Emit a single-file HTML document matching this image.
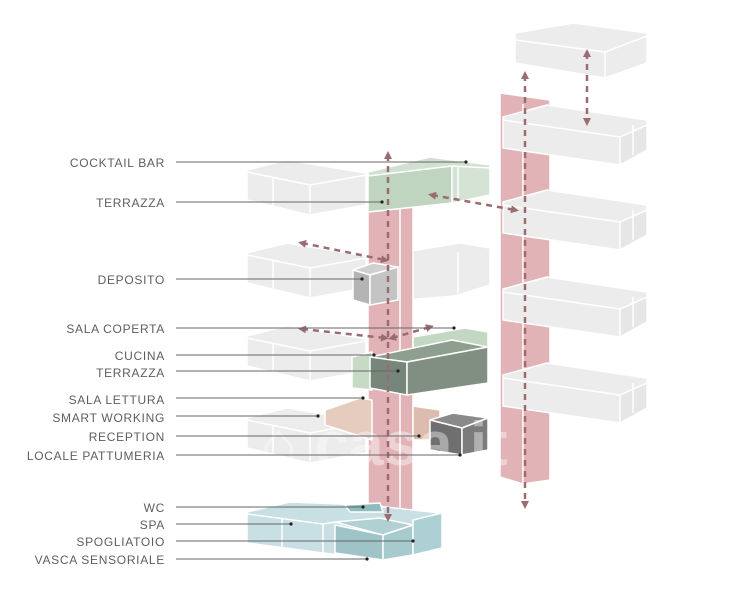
<!DOCTYPE html>
<html><head><meta charset="utf-8"><style>
html,body{margin:0;padding:0;background:#fff;}
svg{display:block;}
text{font-family:"Liberation Sans",sans-serif;font-size:12px;fill:#5e5e5e;letter-spacing:0.7px;}
</style></head><body>
<svg width="738" height="600" viewBox="0 0 738 600" xmlns="http://www.w3.org/2000/svg">
<defs>
<marker id="ah" viewBox="0 0 10 10" refX="5" refY="5" markerWidth="3.2" markerHeight="3.2" orient="auto-start-reverse"><path d="M0,0 L10,5 L0,10 z" fill="#9a6b70"/></marker>
</defs>
<g stroke="#fff" stroke-width="1.5" stroke-linejoin="round">
<polygon points="500,93 550,100 550,480 523,484 500,477" fill="#e2b3b6"/>
<line x1="523" y1="104" x2="523" y2="484"/>
<g fill="#ececec">
<polygon points="515,33 573,23 647,33 647,63 605,78 515,63"/>
<polyline points="515,40 605,52 647,36" fill="none"/><line x1="605" y1="52" x2="605" y2="78"/>
</g>
<g id="rf" fill="#ececec">
<polygon points="503,117 547,105 647,120 647,150 620,165 503,148"/>
<polygon points="620,137 647,125 647,150 620,165" fill="#e6e6e6"/>
<polyline points="503,120 620,137" fill="none"/>
<polyline points="633,125 633,155" fill="none"/>
</g>
<use href="#rf" transform="translate(0,85)"/>
<use href="#rf" transform="translate(0,172)"/>
<use href="#rf" transform="translate(0,258)"/>
<g id="gb" fill="#ececec">
<polygon points="247,170 287,160 366,173 366,205 310,215 247,200"/>
<polyline points="247,172 310,185 366,175" fill="none"/>
<line x1="310" y1="185" x2="310" y2="215"/>
<line x1="273" y1="177" x2="273" y2="207"/>
</g>
<use href="#gb" transform="translate(0,83)"/>
<g fill="#ececec">
<polygon points="405,252 460,243 490,248 490,285 455,296 405,300"/>
<line x1="458" y1="252" x2="458" y2="293"/>
</g>
<use href="#gb" transform="translate(0,166)"/>
<use href="#gb" transform="translate(0,248)"/>
<polygon points="368,205 413,205 413,520 368,520" fill="#e2b3b6"/>
<line x1="400" y1="208" x2="400" y2="520"/>
<polygon points="368,172 430,157 490,165 490,195 452,203 368,212" fill="#d1e1d1"/>
<polygon points="368,176 452,166 452,203 368,212" fill="#bfd5bf"/>
<polygon points="452,166 490,168 490,195 452,203" fill="#d4e3d4"/>
<line x1="458" y1="167" x2="458" y2="201"/>
<polygon points="353,270 373,263 398,267 370,275" fill="#d0d0d0"/>
<polygon points="353,270 370,275 370,305 353,300" fill="#b4b4b4"/>
<polygon points="370,275 398,267 398,300 370,305" fill="#c4c4c4"/>
<polygon points="413,337 465,328 488,332 488,347 413,352" fill="#c3d8c3"/>
<polygon points="352,357 372,352 372,390 352,388" fill="#c6dac6"/>
<polygon points="370,357 452,340 488,347 407,362" fill="#8e9e8f"/>
<polygon points="370,357 407,362 407,395 370,388" fill="#76867a"/>
<polygon points="407,362 488,347 488,383 407,395" fill="#818f82"/>
<polygon points="325,410 360,398 372,400 372,440 325,425" fill="#e6cbbf"/>
<polygon points="413,406 440,410 440,440 413,440" fill="#dcbcaf"/>
<polygon points="430,420 453,413 488,418 462,428" fill="#8a8a8a"/>
<polygon points="430,420 462,428 462,455 430,450" fill="#6f6f6f"/>
<polygon points="462,428 488,418 488,450 462,455" fill="#7b7b7b"/>
<polygon points="247,512 290,502 367,505 440,513 442,550 383,560 323,553 247,543" fill="#c8dfe4"/>
<polyline points="247,514 323,524 335,522" fill="none"/>
<line x1="282" y1="518" x2="282" y2="548"/>
<line x1="323" y1="524" x2="323" y2="553"/>
<polygon points="335,522 380,518 413,525 383,535" fill="#b1d0d3"/>
<polygon points="335,525 383,535 383,560 335,553" fill="#9fc4c7"/>
<polygon points="383,535 413,525 413,555 383,560" fill="#a7cacd"/>
<polygon points="413,520 442,513 442,548 413,555" fill="#acd0d3"/>
<polygon points="345,505 380,503 383,512 350,512" fill="#8fbcbf"/>
</g>
<text x="260" y="465" style="font-size:62px;font-weight:bold;fill:#fff;opacity:0.4;letter-spacing:0">⌂ casa.it</text>
<g stroke="#9a6b70" stroke-width="2.5" stroke-dasharray="6,5" fill="none" marker-start="url(#ah)" marker-end="url(#ah)">
<line x1="525" y1="75" x2="525" y2="505"/>
<line x1="587" y1="53" x2="587" y2="122"/>
<line x1="388" y1="155" x2="388" y2="518"/>
<line x1="432" y1="195" x2="515" y2="210"/>
<line x1="302" y1="243" x2="385" y2="260"/>
<line x1="302" y1="329" x2="385" y2="338"/>
<line x1="392" y1="338" x2="430" y2="327"/>
</g>
<g stroke="#666" stroke-width="1">
<line x1="176" y1="162" x2="466" y2="162"/>
<line x1="176" y1="202" x2="382" y2="202"/>
<line x1="176" y1="279" x2="362" y2="279"/>
<line x1="176" y1="328" x2="454" y2="328"/>
<line x1="176" y1="355" x2="374" y2="355"/>
<line x1="176" y1="371" x2="398" y2="371"/>
<line x1="176" y1="398" x2="363" y2="398"/>
<line x1="176" y1="416" x2="318" y2="416"/>
<line x1="176" y1="436" x2="419" y2="436"/>
<line x1="176" y1="455" x2="460" y2="455"/>
<line x1="176" y1="507" x2="363" y2="507"/>
<line x1="176" y1="524" x2="291" y2="524"/>
<line x1="176" y1="541" x2="413" y2="541"/>
<line x1="176" y1="559" x2="367" y2="559"/>
</g>
<g fill="#222">
<circle cx="466" cy="162" r="1.6"/><circle cx="382" cy="202" r="1.6"/><circle cx="362" cy="279" r="1.6"/><circle cx="454" cy="328" r="1.6"/><circle cx="374" cy="355" r="1.6"/><circle cx="398" cy="371" r="1.6"/><circle cx="363" cy="398" r="1.6"/><circle cx="318" cy="416" r="1.6"/><circle cx="419" cy="436" r="1.6"/><circle cx="460" cy="455" r="1.6"/><circle cx="363" cy="507" r="1.6"/><circle cx="291" cy="524" r="1.6"/><circle cx="413" cy="541" r="1.6"/><circle cx="367" cy="559" r="1.6"/>
</g>
<g text-anchor="end">
<text x="165" y="167">COCKTAIL BAR</text>
<text x="165" y="207">TERRAZZA</text>
<text x="165" y="284">DEPOSITO</text>
<text x="165" y="333">SALA COPERTA</text>
<text x="165" y="360">CUCINA</text>
<text x="165" y="377">TERRAZZA</text>
<text x="165" y="404">SALA LETTURA</text>
<text x="165" y="422">SMART WORKING</text>
<text x="165" y="441">RECEPTION</text>
<text x="165" y="460">LOCALE PATTUMERIA</text>
<text x="165" y="512">WC</text>
<text x="165" y="529">SPA</text>
<text x="165" y="546">SPOGLIATOIO</text>
<text x="165" y="564">VASCA SENSORIALE</text>
</g>
</svg>
</body></html>
